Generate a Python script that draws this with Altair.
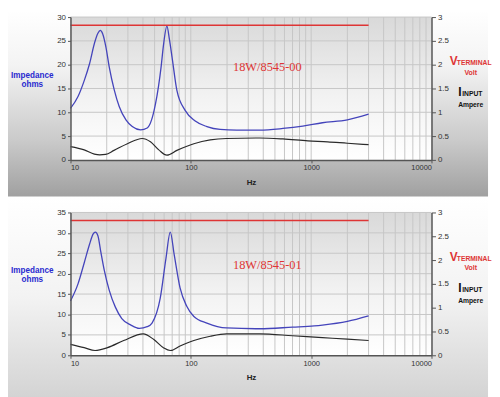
import altair as alt
import pandas as pd

# ---------------- data ----------------
model_labels = ['18W/8545-00', '18W/8545-01']
imp_max = [30, 35]

# panel A (18W/8545-00)
imp_freq_a = [10, 11.55, 13.05, 14.4, 15.9, 16.9, 17.7, 18.5, 19.7, 21.0, 23.1, 25.4, 28.9, 32.6,
              38.3, 43.4, 50.9, 56.6, 59.2, 63.3, 66.4, 69.9, 76.6, 89.7, 108, 136, 175, 240, 374,
              583, 852, 1240, 2000, 3000]
imp_val_a = [10.8, 13.3, 16.75, 20.2, 24.7, 26.6, 27.2, 26.5, 23.7, 19.5, 14.7, 11.2, 8.4, 7.0,
             6.3, 6.7, 11.8, 19.5, 24.0, 28.1, 25.3, 21.5, 14.6, 10.4, 8.2, 7.0, 6.4, 6.25, 6.25,
             6.6, 7.1, 7.8, 8.4, 9.6]
cur_freq_a = [10, 13, 15.8, 17.5, 19.6, 23, 29.7, 39.4, 46.2, 54.2, 63.3, 76.6, 106, 145, 198,
              374, 583, 940, 1370, 2000, 3000]
cur_val_a = [0.28, 0.21, 0.12, 0.105, 0.115, 0.2, 0.34, 0.45, 0.38, 0.21, 0.10, 0.2, 0.34, 0.42, 0.45,
             0.46, 0.44, 0.40, 0.38, 0.35, 0.32]

# panel B (18W/8545-01)
imp_freq_b = [10, 11.55, 13.05, 14.4, 15.4, 16.1, 16.9, 17.9, 19.1, 21.0, 23.6, 26.7, 31.8, 37.3,
              43.4, 47.6, 55.7, 62.1, 67.5, 72.8, 81.4, 92.5, 106, 136, 198, 374, 700, 1060, 1240,
              2000, 3000]
imp_val_b = [13.3, 17.5, 22.8, 27.2, 29.7, 30.2, 29.3, 25.2, 20.8, 15.9, 11.8, 9.0, 7.4, 6.6,
             7.0, 7.9, 14.0, 23.7, 30.2, 24.6, 16.5, 12.0, 9.5, 7.9, 6.7, 6.5, 6.9, 7.2, 7.4,
             8.3, 9.65]
cur_freq_b = [10, 13, 16, 20.3, 27.7, 40.2, 49.3, 59.2, 67.5, 81.4, 106, 145, 198, 374, 700,
              1240, 2000, 3000]
cur_val_b = [0.23, 0.16, 0.10, 0.16, 0.31, 0.45, 0.33, 0.16, 0.10, 0.195, 0.31, 0.40, 0.45, 0.45,
             0.41, 0.37, 0.34, 0.31]

volt_freq = [10, 3000]
volt_val = [2.83, 2.83]

x_label_values = [10, 100, 1000, 10000]
grid_freqs = [m * 10 ** e for e in range(1, 4) for m in range(1, 10)][1:]
right_ticks = [0, 0.5, 1, 1.5, 2, 2.5, 3]

# ---------------- styling ----------------
W, H = 364, 144
BLUE = '#4444bb'
RED = '#de3535'
GRID = '#c6c6c6'
FONT = 'Liberation Sans'


def gradient(stops):
    return alt.LinearGradient(
        gradient='linear',
        stops=[alt.GradientStop(color=c, offset=o) for o, c in stops],
        x1=0, x2=0, y1=0, y2=1,
    )


def panel(idx, imp_f, imp_v, cur_f, cur_v, top_ext, bot_ext, label_y):
    one = pd.DataFrame({'k': [0]})
    zmax = imp_max[idx]

    xscale = alt.Scale(type='log', domain=[10, 10000], nice=False)
    xaxis = alt.Axis(values=x_label_values, format='d', grid=False, title='Hz',
                     labelFontSize=7.5, labelPadding=1, tickSize=3,
                     titleFontSize=8, titleFontWeight='bold', titleColor='#222',
                     titlePadding=7, zindex=2)
    yl_scale = alt.Scale(domain=[0, zmax], nice=False, zero=True)
    yl_axis = alt.Axis(values=list(range(0, zmax + 1, 5)), grid=False, title=None,
                       orient='left', tickSize=3, labelPadding=2, zindex=2)
    yr_scale = alt.Scale(domain=[0, 3], nice=False)
    yr_axis = alt.Axis(values=right_ticks, format='~g', grid=False, title=None,
                       orient='right', tickSize=4, labelPadding=2, zindex=2)

    outer = alt.Chart(one).mark_rect(
        fill=gradient([(0, '#ffffff'), (0.3, '#f3f3f3'), (0.7, '#cacaca'), (1, '#a0a0a0')]),
    ).encode(x=alt.value(-63), x2=alt.value(W + 57),
             y=alt.value(-top_ext), y2=alt.value(H + bot_ext))

    plotbg = alt.Chart(one).mark_rect(
        fill=gradient([(0, '#d9d9d9'), (0.55, '#f2f2f2'), (1, '#ffffff')]),
    ).encode(x=alt.value(0), x2=alt.value(W), y=alt.value(0), y2=alt.value(H))

    vgrid = alt.Chart(pd.DataFrame({'f': grid_freqs})).mark_rule(
        color=GRID, strokeWidth=1
    ).encode(x=alt.X('f:Q', scale=xscale, axis=xaxis))

    hgrid = alt.Chart(pd.DataFrame({'z': list(range(5, zmax + 1, 5))})).mark_rule(
        color=GRID, strokeWidth=1
    ).encode(y=alt.Y('z:Q', scale=yl_scale, axis=yl_axis))

    imp = alt.Chart(pd.DataFrame({'f': imp_f, 'z': imp_v})).mark_line(
        color=BLUE, strokeWidth=1.3, interpolate='monotone'
    ).encode(x=alt.X('f:Q', scale=xscale, axis=xaxis),
             y=alt.Y('z:Q', scale=yl_scale, axis=yl_axis))

    left = alt.layer(hgrid, imp)

    cur = alt.Chart(pd.DataFrame({'f': cur_f, 'v': cur_v})).mark_line(
        color='#2b2b2b', strokeWidth=1.2, interpolate='monotone'
    ).encode(x=alt.X('f:Q', scale=xscale, axis=xaxis),
             y=alt.Y('v:Q', scale=yr_scale, axis=yr_axis))
    volt = alt.Chart(pd.DataFrame({'f': volt_freq, 'v': volt_val})).mark_line(
        color=RED, strokeWidth=1.5
    ).encode(x=alt.X('f:Q', scale=xscale, axis=xaxis),
             y=alt.Y('v:Q', scale=yr_scale, axis=yr_axis))
    right = alt.layer(cur, volt)

    def txt(text, x, y, size, color, weight='bold', align='center', baseline='middle', font=FONT):
        return alt.Chart(one).mark_text(
            text=text, font=font, fontSize=size, fontWeight=weight, color=color,
            align=align, baseline=baseline
        ).encode(x=alt.value(x), y=alt.value(y))

    texts = [
        txt(model_labels[idx], 198.5, label_y, 12.5, RED, weight='normal', font='Liberation Serif'),
        txt('Impedance', -38.5, 59, 8.2, '#2a2ad0'),
        txt('ohms', -38.5, 68, 8.2, '#2a2ad0'),
        txt('V', 382.5, 48.5, 12, RED, align='left', baseline='alphabetic'),
        txt('TERMINAL', 389.5, 48.5, 6.8, RED, align='left', baseline='alphabetic'),
        txt('Volt', 403.5, 56, 7, RED),
        txt('I', 391, 80, 12, '#111', align='left', baseline='alphabetic'),
        txt('INPUT', 395, 80, 6.8, '#111', align='left', baseline='alphabetic'),
        txt('Ampere', 403.5, 89, 6.8, '#111'),
    ]

    return alt.layer(outer, plotbg, vgrid, left, right, *texts).resolve_scale(
        y='independent'
    ).properties(width=W, height=H)


top = panel(0, imp_freq_a, imp_val_a, cur_freq_a, cur_val_a, 7, 37, 50.5)
bottom = panel(1, imp_freq_b, imp_val_b, cur_freq_b, cur_val_b, 15, 172, 53.5)

chart = alt.vconcat(top, bottom, spacing=53, bounds='flush').properties(
    padding=0
).configure_view(stroke=None).configure_axis(
    labelFont=FONT, labelFontSize=8, labelColor='#333', titleFont=FONT,
    domainColor='#555', domainWidth=1.5, tickColor='#555', tickWidth=1,
)

chart.save("out.html", embed_options={"renderer": "svg", "actions": False})
